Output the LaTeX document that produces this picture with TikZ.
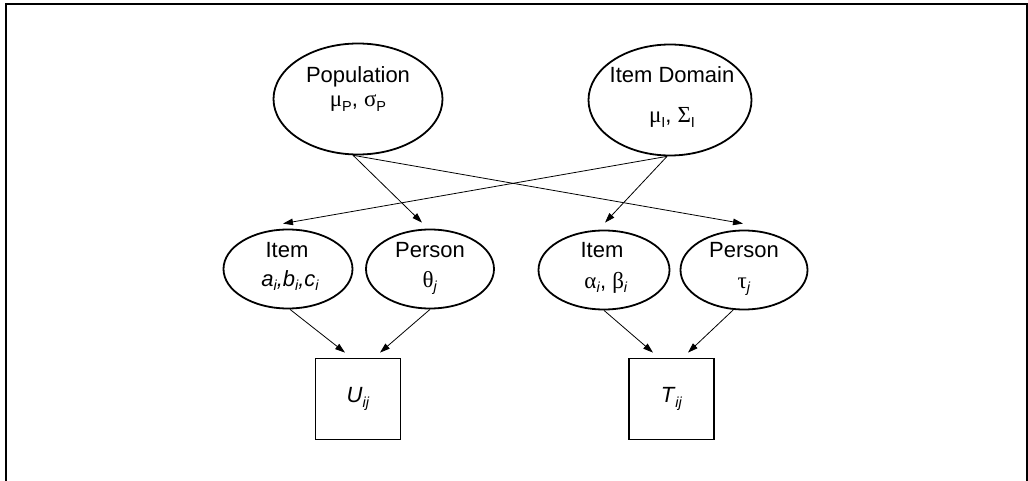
\documentclass[tikz,border=0pt]{standalone}
\usepackage{fontspec}
\setmainfont{Liberation Sans}
\newfontfamily\grk{Liberation Serif}
\usetikzlibrary{arrows.meta,shapes.geometric}
\newcommand{\lblfont}{\fontsize{22}{25}\selectfont}
\newcommand{\sbs}[1]{\raisebox{-0.2em}{\fontsize{14.5}{14.5}\selectfont #1}}
\newcommand{\gk}[1]{{\grk\fontsize{23}{25}\selectfont #1}}
\begin{document}
\begin{tikzpicture}[x=1pt,y=-1pt,
  ell/.style={draw,ellipse,line width=1.8pt,inner sep=0pt},
  lbl/.style={inner sep=0pt,anchor=base,font=\lblfont},
  box/.style={draw,rectangle,line width=1.8pt,inner sep=0pt,minimum width=85pt,minimum height=81pt,font=\lblfont},
  conn/.style={line width=0.8pt,-{Triangle[length=10pt,width=6.5pt]}}]
\useasboundingbox (0,0) rectangle (1028,481);
\draw[line width=2pt] (6,482) -- (6,4) -- (1026.5,4) -- (1026.5,482);

\node[ell,minimum width=169pt,minimum height=111pt] (pop) at (358,99) {};
\node[ell,minimum width=163pt,minimum height=111pt] (dom) at (670,100) {};
\node[ell,minimum width=129pt,minimum height=79pt] (it1) at (288,269) {};
\node[ell,minimum width=128pt,minimum height=79pt] (pe1) at (430,269) {};
\node[ell,minimum width=131pt,minimum height=79pt] (it2) at (604,270) {};
\node[ell,minimum width=127pt,minimum height=79pt] (pe2) at (744,270) {};
\node[box] (U) at (358,399) {\textit{U}\sbs{\textit{ij}}};
\node[box] (T) at (671.5,399) {\textit{T}\sbs{\textit{ij}}};

\node[lbl] (popa) at (358,83) {Population};
\node[lbl] (popb) at (358,107) {\gk{μ}\sbs{P}, \gk{σ}\sbs{P}};
\node[lbl] (doma) at (672,83) {Item Domain};
\node[lbl] (domb) at (672,123) {\gk{μ}\sbs{I}, \gk{Σ}\sbs{I}};
\node[lbl] (it1a) at (287,258) {Item};
\node[lbl] (it1b) at (290,286) {\textit{a\sbs{i},b\sbs{i},c\sbs{i}}};
\node[lbl] (pe1a) at (430,258) {Person};
\node[lbl] (pe1b) at (430,287) {\gk{θ}\sbs{\textit{j}}};
\node[lbl] (it2a) at (602,258) {Item};
\node[lbl] (it2b) at (606,288) {\gk{α}\sbs{\textit{i}}, \gk{β}\sbs{\textit{i}}};
\node[lbl] (pe2a) at (744,258) {Person};
\node[lbl] (pe2b) at (744,288) {\gk{τ}\sbs{\textit{j}}};

\draw[conn] (pop.265) -- ([xshift=-8pt,yshift=6pt]pe1.north);
\draw[conn] (pop.265) -- ([xshift=-1pt,yshift=6pt]pe2.north);
\draw[conn] (dom.267) -- ([xshift=-5pt,yshift=5pt]it1.north);
\draw[conn] (dom.267) -- ([xshift=1pt,yshift=7pt]it2.north);
\draw[conn] ([xshift=2pt]it1.south) -- ([xshift=-13pt,yshift=5pt]U.north);
\draw[conn] (pe1.south) -- ([xshift=22pt,yshift=5pt]U.north);
\draw[conn] (it2.south) -- ([xshift=-18.5pt,yshift=5pt]T.north);
\draw[conn] (pe2.255) -- ([xshift=16.5pt,yshift=5pt]T.north);
\end{tikzpicture}
\end{document}
